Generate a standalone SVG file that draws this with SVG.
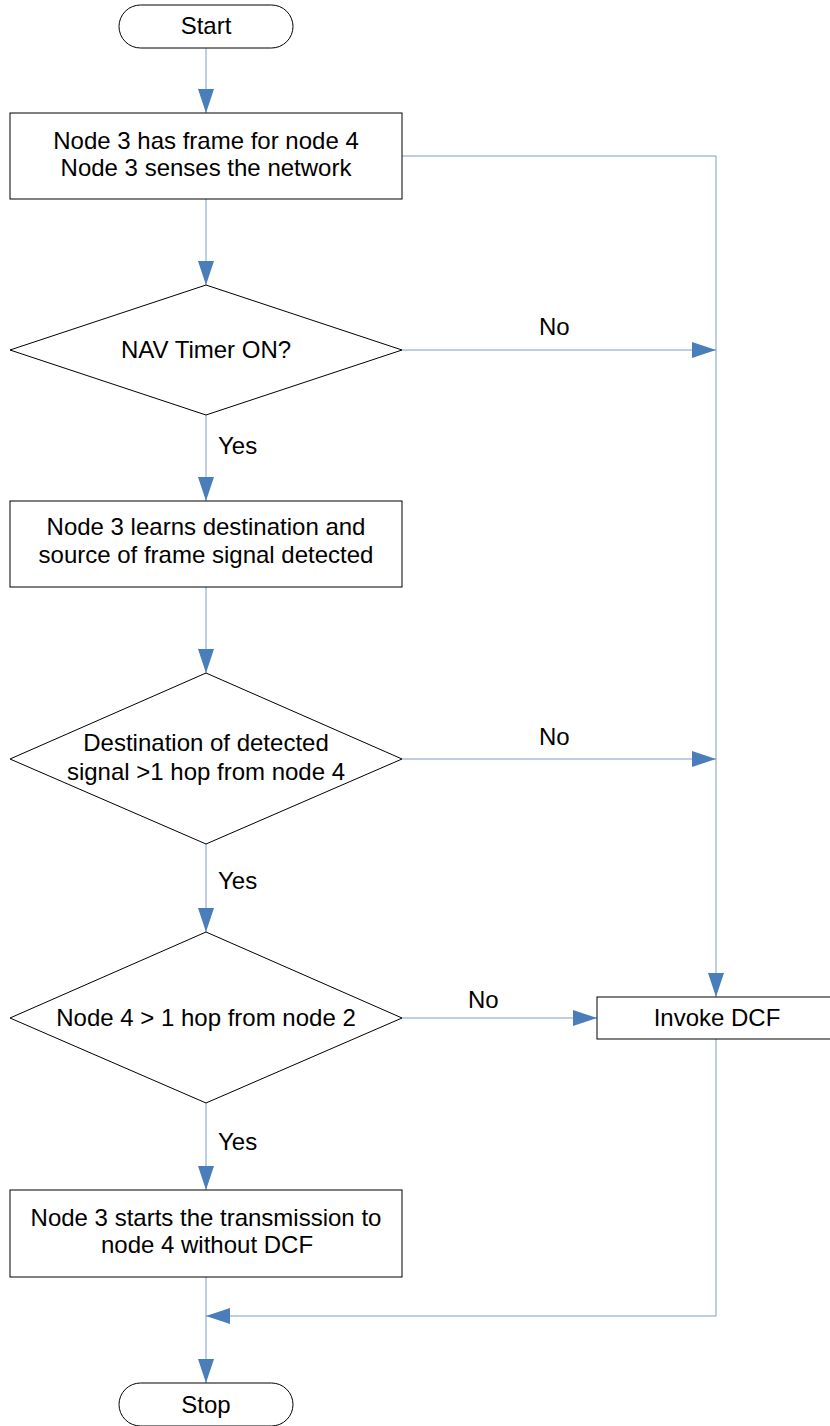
<svg xmlns="http://www.w3.org/2000/svg" width="830" height="1426" viewBox="0 0 830 1426">
<style>
.shape{fill:#fff;stroke:#000;stroke-width:1}
.t{font-family:"Liberation Sans",Arial,sans-serif;font-size:24px;fill:#000;text-anchor:middle}
.lbl{font-family:"Liberation Sans",Arial,sans-serif;font-size:24px;fill:#000}
.c{fill:none;stroke:#4a7ebb;stroke-width:1;stroke-opacity:0.75}
</style>
<defs>
<marker id="ah" markerWidth="24" markerHeight="16" refX="24" refY="8" orient="auto" markerUnits="userSpaceOnUse">
<path d="M0,0 L24,8 L0,16 Z" fill="#4a7ebb"/>
</marker>
</defs>
<rect width="830" height="1426" fill="#fff"/>
<g id="connectors">
<path class="c" d="M206,48 V113" marker-end="url(#ah)"/>
<path class="c" d="M206,199 V285" marker-end="url(#ah)"/>
<path class="c" d="M402,156 H716 V997" marker-end="url(#ah)"/>
<path class="c" d="M402,350 H716" marker-end="url(#ah)"/>
<path class="c" d="M206,415 V501" marker-end="url(#ah)"/>
<path class="c" d="M206,587 V673" marker-end="url(#ah)"/>
<path class="c" d="M402,759 H716" marker-end="url(#ah)"/>
<path class="c" d="M206,844 V932" marker-end="url(#ah)"/>
<path class="c" d="M402,1018 H597" marker-end="url(#ah)"/>
<path class="c" d="M206,1103 V1190" marker-end="url(#ah)"/>
<path class="c" d="M716,1039 V1316 H206" marker-end="url(#ah)"/>
<path class="c" d="M206,1277 V1383" marker-end="url(#ah)"/>
<text class="lbl" x="539" y="335">No</text>
<text class="lbl" x="539" y="745">No</text>
<text class="lbl" x="468" y="1008">No</text>
<text class="lbl" x="218" y="454">Yes</text>
<text class="lbl" x="218" y="889">Yes</text>
<text class="lbl" x="218" y="1150">Yes</text>
</g>
<g id="start">
<rect class="shape" x="119" y="5" width="174" height="43" rx="21.5" ry="21.5"/>
<text class="t" x="206" y="34">Start</text>
</g>
<g id="node-frame">
<rect class="shape" x="10" y="113" width="392" height="86"/>
<text class="t" x="206" y="149">Node 3 has frame for node 4</text>
<text class="t" x="206" y="176">Node 3 senses the network</text>
</g>
<g id="nav-timer">
<polygon class="shape" points="206,285 402,350 206,415 10,350"/>
<text class="t" x="206" y="358">NAV Timer ON?</text>
</g>
<g id="learns">
<rect class="shape" x="10" y="501" width="392" height="86"/>
<text class="t" x="206" y="535">Node 3 learns destination and</text>
<text class="t" x="206" y="563">source of frame signal detected</text>
</g>
<g id="destination">
<polygon class="shape" points="206,673 402,759 206,844 10,759"/>
<text class="t" x="206" y="751">Destination of detected</text>
<text class="t" x="206" y="780">signal &gt;1 hop from node 4</text>
</g>
<g id="node4-hop">
<polygon class="shape" points="206,932 402,1018 206,1103 10,1018"/>
<text class="t" x="206" y="1026">Node 4 &gt; 1 hop from node 2</text>
</g>
<g id="invoke-dcf">
<rect class="shape" x="597" y="997" width="240" height="42"/>
<text class="t" x="717" y="1026">Invoke DCF</text>
</g>
<g id="transmission">
<rect class="shape" x="10" y="1190" width="392" height="87"/>
<text class="t" x="206" y="1226">Node 3 starts the transmission to</text>
<text class="t" x="207" y="1253">node 4 without DCF</text>
</g>
<g id="stop">
<rect class="shape" x="119" y="1383" width="174" height="43" rx="21.5" ry="21.5"/>
<text class="t" x="206" y="1413">Stop</text>
</g>
</svg>
